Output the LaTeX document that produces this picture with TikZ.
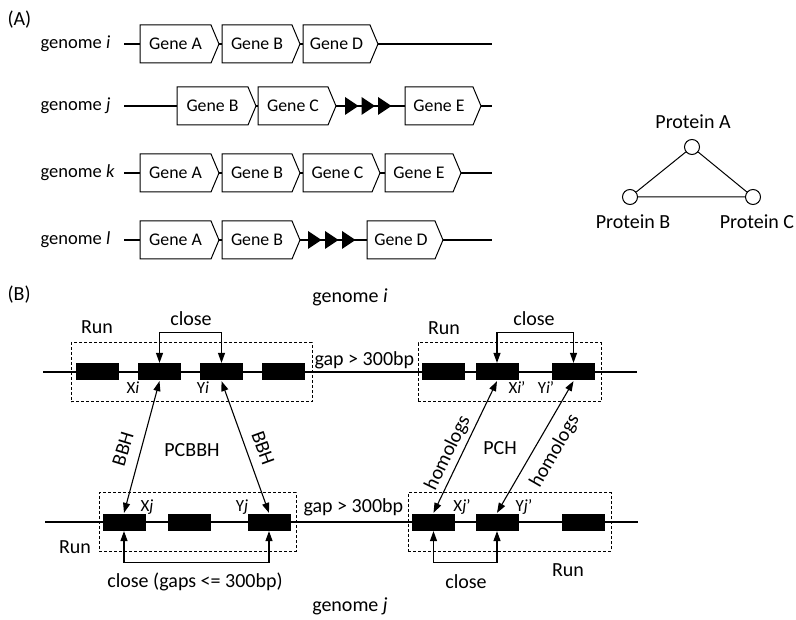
\documentclass[tikz,border=0pt]{standalone}
\usepackage{fontspec}
\setmainfont{Carlito}
\usetikzlibrary{arrows.meta}
\newcommand\genebox[5]{%
  \draw[geneshape] (#2,#4-19) -- (#3,#4-19) -- (#3+8,#4) -- (#3,#4+19) -- (#2,#4+19) -- cycle;
  \node[genetext] (#1) at ({(#2+#3)/2},#4) {#5};}
\newcommand\arrowhd[3]{%
  \fill (#1,#3-9) -- (#1+#2,#3) -- (#1,#3+9) -- cycle;}
\begin{document}
\begin{tikzpicture}[x=1pt,y=-1pt,line width=1.2pt,
  geneshape/.style={draw,fill=white,line width=1pt,line join=miter},
  genetext/.style={font=\fontsize{17.8}{20}\selectfont,inner sep=0pt},
  lblA/.style={font=\fontsize{18.5}{20}\selectfont,inner sep=0pt,anchor=west},
  lblB/.style={font=\fontsize{20}{22}\selectfont,inner sep=0pt},
  small/.style={font=\fontsize{17}{19}\selectfont,inner sep=0pt},
  prot/.style={draw,fill=white,circle,minimum size=15,inner sep=0pt,line width=1pt},
  blk/.style={fill=black,draw=none,minimum width=43,minimum height=17,inner sep=0pt},
  runbox/.style={draw,dash pattern=on 3pt off 2pt,line width=1pt,inner sep=0pt},
  dbl/.style={{Triangle[length=10pt,width=7pt]}-{Triangle[length=10pt,width=7pt]},line width=1.1pt},
]
\useasboundingbox (0,0) rectangle (796,620);

% ---------------- Panel A ----------------
\node[lblB,anchor=west] (labA) at (7,20) {(A)};
\node[lblA] (gi) at (40,44) {genome \textit{i}};
\node[lblA] (gj) at (40,106) {genome \textit{j}};
\node[lblA] (gk) at (40,173) {genome \textit{k}};
\node[lblA] (gl) at (40,240) {genome \textit{l}};

\draw (124,44) -- (492,44);
\draw (124,106) -- (492,106);
\draw (124,173) -- (492,173);
\draw (124,240) -- (492,240);

\genebox{iA}{140}{211}{44}{Gene A}
\genebox{iB}{222}{292}{44}{Gene B}
\genebox{iD}{303}{370}{44}{Gene D}

\genebox{jB}{177}{248}{106}{Gene B}
\genebox{jC}{258}{328}{106}{Gene C}
\arrowhd{345}{13.5}{106}
\arrowhd{361.5}{13.5}{106}
\arrowhd{378}{13.5}{106}
\genebox{jE}{405}{473}{106}{Gene E}

\genebox{kA}{140}{211}{173}{Gene A}
\genebox{kB}{222}{292}{173}{Gene B}
\genebox{kC}{303}{372}{173}{Gene C}
\genebox{kE}{385}{453}{173}{Gene E}

\genebox{lA}{140}{211}{240}{Gene A}
\genebox{lB}{222}{292}{240}{Gene B}
\arrowhd{308}{13.5}{240}
\arrowhd{325}{13.5}{240}
\arrowhd{342}{13.5}{240}
\genebox{lD}{367}{435}{240}{Gene D}

% protein triangle
\node[prot] (pA) at (692,147) {};
\node[prot] (pB) at (630,197) {};
\node[prot] (pC) at (753,197) {};
\draw[line width=1pt] (pA) -- (pB) -- (pC) -- (pA);
\node[lblB] (tA) at (693,122) {Protein A};
\node[lblB] (tB) at (633,222) {Protein B};
\node[lblB] (tC) at (757,222) {Protein C};

% ---------------- Panel B ----------------
\node[lblB,anchor=west] (labB) at (7,295) {(B)};
\node[lblB] (gBi) at (350,297) {genome \textit{i}};
\node[lblB] (gBj) at (350,606) {genome \textit{j}};

\draw (43,372) -- (637,372);
\draw (45,522) -- (638,522);

\node[runbox,minimum width=241,minimum height=59] (runTL) at (191.5,372.5) {};
\node[runbox,minimum width=183,minimum height=59] (runTR) at (509.5,372.5) {};
\node[runbox,minimum width=197,minimum height=58] (runBL) at (197.5,522) {};
\node[runbox,minimum width=203,minimum height=58] (runBR) at (509.5,522) {};

\node[blk] (t1) at (97.5,372) {};
\node[blk] (t2) at (159.5,372) {};
\node[blk] (t3) at (221.5,372) {};
\node[blk] (t4) at (283,372) {};
\node[blk] (tr1) at (443,372) {};
\node[blk] (tr2) at (497,372) {};
\node[blk] (tr3) at (573.5,372) {};

\node[blk] (b1) at (124,522) {};
\node[blk] (b2) at (189,522) {};
\node[blk] (b3) at (269,522) {};
\node[blk] (br1) at (433.5,522) {};
\node[blk] (br2) at (497,522) {};
\node[blk] (br3) at (583.5,522) {};

% close brackets
\draw[dbl] (t2.north) -- ++(0,-30.5) -| (t3.north);
\draw[dbl] (tr2.north) -- ++(0,-30.5) -| (tr3.north);
\draw[dbl] (b1.south) -- ++(0,31.5) -| (b3.south);
\draw[dbl] (br1.south) -- ++(0,31.5) -| (br2.south);

% homology arrows
\draw[dbl] (t2.south) -- (b1.north);
\draw[dbl] (t3.south) -- (b3.north);
\draw[dbl] (tr2.south) -- (br1.north);
\draw[dbl] (tr3.south) -- (br2.north);

% labels
\node[lblB] (runL1) at (97,327) {Run};
\node[lblB] (clL1) at (191,319) {close};
\node[small] (xi) at (133,388) {X\textit{i}};
\node[small] (yi) at (203,388) {Y\textit{i}};
\node[lblB,anchor=west] (gap1) at (314,360) {gap > 300bp};

\node[lblB] (runR1) at (444,328) {Run};
\node[lblB] (clR1) at (534,319) {close};
\node[small] (xi2) at (517,388) {X\textit{i}’};
\node[small] (yi2) at (546,388) {Y\textit{i}’};

\node[lblB,rotate=73] (bbh1) at (123,449) {BBH};
\node[lblB,rotate=-70] (bbh2) at (263,448) {BBH};
\node[lblB] (pcbbh) at (192,450) {PCBBH};
\node[lblB,rotate=64] (hom1) at (448,453) {homologs};
\node[lblB,rotate=60] (hom2) at (555,451) {homologs};
\node[lblB] (pch) at (500,448) {PCH};

\node[small] (xj) at (147,507) {X\textit{j}};
\node[small] (yj) at (242,507) {Y\textit{j}};
\node[lblB,anchor=west] (gap2) at (303,507) {gap > 300bp};
\node[small] (xj2) at (462,507) {X\textit{j}’};
\node[small] (yj2) at (524,507) {Y\textit{j}’};

\node[lblB] (runL2) at (75,547) {Run};
\node[lblB] (clL2) at (195,582) {close (gaps <= 300bp)};
\node[lblB] (clR2) at (466,582) {close};
\node[lblB] (runR2) at (568,570) {Run};
\end{tikzpicture}
\end{document}
